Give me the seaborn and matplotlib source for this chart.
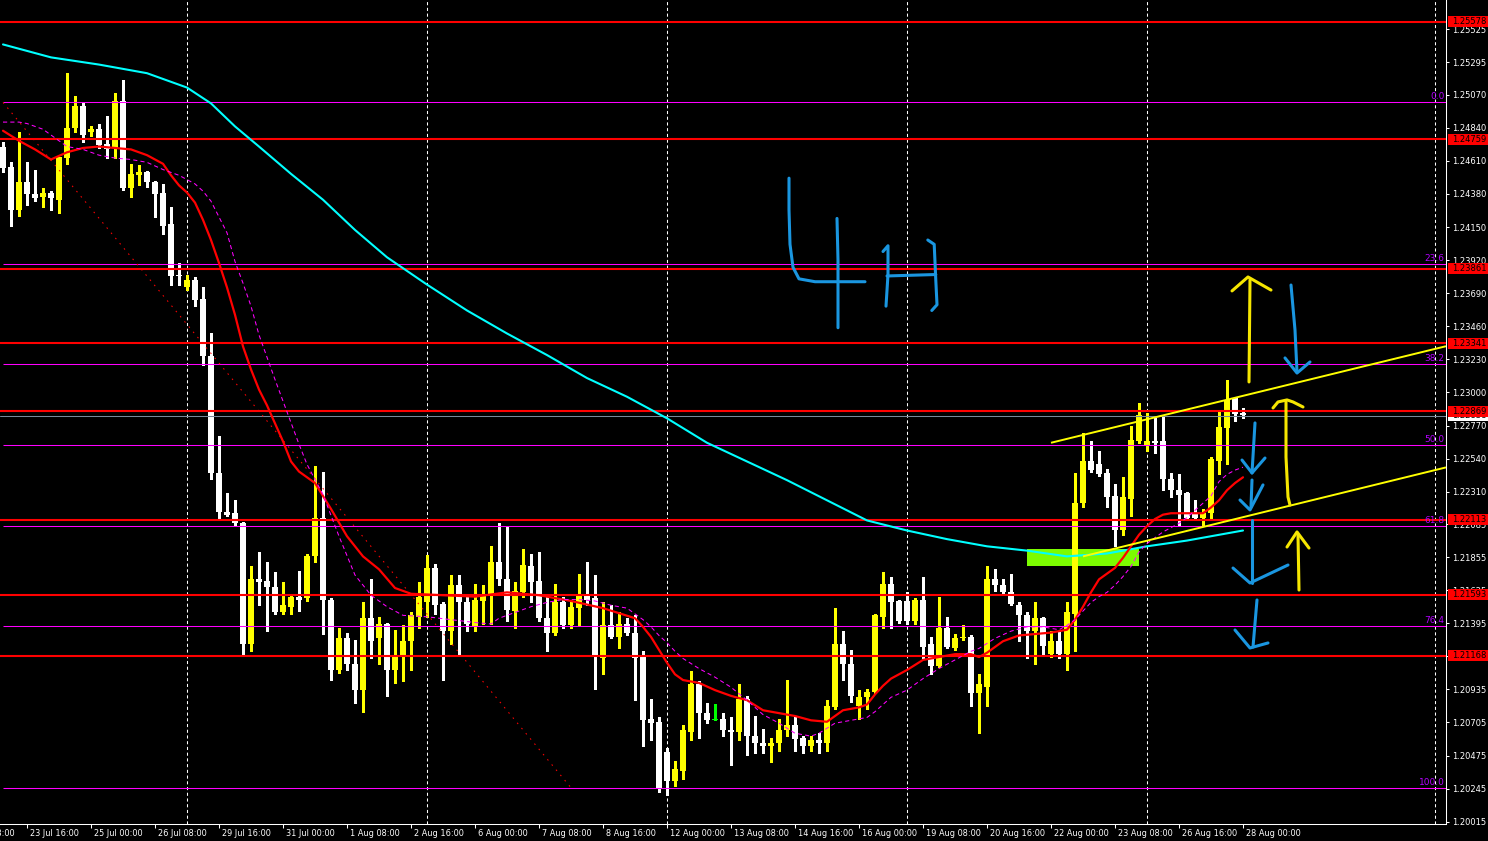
import numpy as np
import pandas as pd
import matplotlib
matplotlib.use("Agg")
import matplotlib.pyplot as plt
import matplotlib.transforms as mtransforms
from matplotlib.patches import Rectangle
import seaborn as sns

# ---------------- data (GBPUSD-like, 4H bars; bar 0 = 23 Jul 16:00) ----------------
bar_index = list(range(-3, 153))

opens = [1.2471, 1.2457, 1.2427, 1.2446, 1.2438, 1.2436, 1.2439, 1.2434, 1.2463, 1.2484,
         1.2499, 1.2481, 1.2483, 1.2473, 1.2470, 1.2503, 1.2442, 1.2451, 1.2453, 1.2446,
         1.2439, 1.2417, 1.2382, 1.2373, 1.2378, 1.2365, 1.2325, 1.2244, 1.2217, 1.2216,
         1.2209, 1.2125, 1.2170, 1.2169, 1.2165, 1.2147, 1.2151, 1.2158, 1.2157, 1.2186,
         1.2213, 1.2156, 1.2107, 1.2129, 1.2111, 1.2093, 1.2143, 1.2129, 1.2139, 1.2107,
         1.2116, 1.2127, 1.2144, 1.2154, 1.2178, 1.2153, 1.2134, 1.2166, 1.2154, 1.2137,
         1.2155, 1.2159, 1.2182, 1.2170, 1.2148, 1.2161, 1.2179, 1.2169, 1.2143, 1.2133,
         1.2154, 1.2138, 1.2150, 1.2159, 1.2157, 1.2115, 1.2138, 1.2130, 1.2139, 1.2133,
         1.2116, 1.2073, 1.2071, 1.2050, 1.2030, 1.2037, 1.2064, 1.2097, 1.2077, 1.2072,
         1.2073, 1.2065, 1.2064, 1.2087, 1.2061, 1.2056, 1.2054, 1.2056, 1.2065, 1.2069,
         1.2060, 1.2054, 1.2058, 1.2056, 1.2081, 1.2125, 1.2111, 1.2082, 1.2088, 1.2092,
         1.2144, 1.2167, 1.2155, 1.2155, 1.2141, 1.2156, 1.2125, 1.2110, 1.2136, 1.2122,
         1.2129, 1.2130, 1.2091, 1.2095, 1.2170, 1.2166, 1.2161, 1.2152, 1.2145, 1.2134,
         1.2143, 1.2118, 1.2127, 1.2118, 1.2146, 1.2223, 1.2252, 1.2250, 1.2244, 1.2228,
         1.2204, 1.2226, 1.2266, 1.2263, 1.2266, 1.2266, 1.2240, 1.2232, 1.2230, 1.2216,
         1.2213, 1.2216, 1.2252, 1.2275, 1.2296, 1.2286]

highs = [1.2474, 1.2460, 1.2481, 1.2460, 1.2455, 1.2442, 1.2440, 1.2464, 1.2522, 1.2506,
         1.2502, 1.2485, 1.2487, 1.2492, 1.2508, 1.2517, 1.2459, 1.2458, 1.2454, 1.2447,
         1.2445, 1.2429, 1.2390, 1.2382, 1.2380, 1.2373, 1.2341, 1.2270, 1.2230, 1.2225,
         1.2210, 1.2179, 1.2189, 1.2182, 1.2175, 1.2168, 1.2159, 1.2176, 1.2188, 1.2249,
         1.2245, 1.2157, 1.2136, 1.2133, 1.2128, 1.2154, 1.2170, 1.2144, 1.2140, 1.2135,
         1.2138, 1.2147, 1.2168, 1.2187, 1.2181, 1.2154, 1.2173, 1.2173, 1.2159, 1.2167,
         1.2166, 1.2193, 1.2209, 1.2207, 1.2168, 1.2191, 1.2188, 1.2189, 1.2159, 1.2167,
         1.2158, 1.2154, 1.2174, 1.2182, 1.2173, 1.2154, 1.2152, 1.2147, 1.2143, 1.2145,
         1.2120, 1.2087, 1.2074, 1.2053, 1.2044, 1.2069, 1.2106, 1.2099, 1.2084, 1.2083,
         1.2077, 1.2074, 1.2097, 1.2089, 1.2075, 1.2066, 1.2060, 1.2073, 1.2100, 1.2075,
         1.2061, 1.2061, 1.2063, 1.2086, 1.2150, 1.2134, 1.2121, 1.2093, 1.2094, 1.2146,
         1.2175, 1.2172, 1.2156, 1.2161, 1.2157, 1.2172, 1.2130, 1.2158, 1.2144, 1.2132,
         1.2138, 1.2131, 1.2104, 1.2179, 1.2177, 1.2170, 1.2174, 1.2154, 1.2147, 1.2154,
         1.2144, 1.2134, 1.2134, 1.2154, 1.2244, 1.2272, 1.2266, 1.2259, 1.2247, 1.2236,
         1.2241, 1.2277, 1.2293, 1.2286, 1.2282, 1.2284, 1.2244, 1.2243, 1.2231, 1.2225,
         1.2219, 1.2255, 1.2287, 1.2309, 1.2297, 1.2289]

lows = [1.2453, 1.2416, 1.2423, 1.2430, 1.2433, 1.2429, 1.2427, 1.2425, 1.2459, 1.2481,
        1.2474, 1.2478, 1.2470, 1.2463, 1.2463, 1.2441, 1.2436, 1.2444, 1.2443, 1.2422,
        1.2410, 1.2375, 1.2375, 1.2371, 1.2360, 1.2319, 1.2240, 1.2211, 1.2214, 1.2207,
        1.2118, 1.2120, 1.2152, 1.2134, 1.2146, 1.2146, 1.2146, 1.2148, 1.2155, 1.2182,
        1.2132, 1.2100, 1.2105, 1.2107, 1.2084, 1.2078, 1.2115, 1.2111, 1.2089, 1.2098,
        1.2099, 1.2107, 1.2136, 1.2144, 1.2146, 1.2100, 1.2125, 1.2117, 1.2134, 1.2134,
        1.2139, 1.2139, 1.2166, 1.2141, 1.2136, 1.2158, 1.2154, 1.2141, 1.2120, 1.2131,
        1.2136, 1.2136, 1.2138, 1.2152, 1.2094, 1.2104, 1.2129, 1.2122, 1.2131, 1.2086,
        1.2054, 1.2058, 1.2022, 1.2020, 1.2026, 1.2031, 1.2058, 1.2060, 1.2070, 1.2072,
        1.2061, 1.2041, 1.2058, 1.2048, 1.2049, 1.2049, 1.2043, 1.2051, 1.2061, 1.2051,
        1.2049, 1.2051, 1.2049, 1.2051, 1.2080, 1.2100, 1.2085, 1.2073, 1.2080, 1.2091,
        1.2136, 1.2136, 1.2140, 1.2139, 1.2139, 1.2115, 1.2104, 1.2109, 1.2122, 1.2121,
        1.2128, 1.2082, 1.2063, 1.2082, 1.2162, 1.2159, 1.2152, 1.2127, 1.2115, 1.2111,
        1.2118, 1.2116, 1.2115, 1.2107, 1.2120, 1.2220, 1.2245, 1.2242, 1.2220, 1.2193,
        1.2201, 1.2214, 1.2265, 1.2259, 1.2258, 1.2232, 1.2227, 1.2207, 1.2212, 1.2211,
        1.2207, 1.2211, 1.2243, 1.2250, 1.2280, 1.2282]

closes = [1.2456, 1.2427, 1.2446, 1.2438, 1.2435, 1.2439, 1.2435, 1.2464, 1.2484, 1.2499,
          1.2479, 1.2483, 1.2472, 1.2469, 1.2503, 1.2442, 1.2452, 1.2453, 1.2446, 1.2438,
          1.2416, 1.2381, 1.2381, 1.2378, 1.2364, 1.2325, 1.2244, 1.2217, 1.2215, 1.2209,
          1.2125, 1.2170, 1.2168, 1.2165, 1.2147, 1.2152, 1.2158, 1.2156, 1.2186, 1.2213,
          1.2156, 1.2107, 1.2129, 1.2111, 1.2093, 1.2143, 1.2127, 1.2139, 1.2107, 1.2116,
          1.2127, 1.2145, 1.2158, 1.2178, 1.2152, 1.2134, 1.2166, 1.2154, 1.2139, 1.2156,
          1.2159, 1.2182, 1.2170, 1.2149, 1.2162, 1.2180, 1.2168, 1.2143, 1.2133, 1.2154,
          1.2138, 1.2151, 1.2159, 1.2156, 1.2116, 1.2138, 1.2130, 1.2139, 1.2133, 1.2115,
          1.2072, 1.2070, 1.2024, 1.2030, 1.2038, 1.2065, 1.2097, 1.2077, 1.2072, 1.2072,
          1.2065, 1.2064, 1.2087, 1.2061, 1.2056, 1.2054, 1.2056, 1.2065, 1.2069, 1.2059,
          1.2054, 1.2058, 1.2056, 1.2082, 1.2125, 1.2111, 1.2089, 1.2088, 1.2092, 1.2145,
          1.2167, 1.2154, 1.2141, 1.2141, 1.2156, 1.2123, 1.2110, 1.2136, 1.2123, 1.2129,
          1.2130, 1.2091, 1.2097, 1.2170, 1.2166, 1.2161, 1.2153, 1.2145, 1.2134, 1.2143,
          1.2124, 1.2127, 1.2118, 1.2147, 1.2223, 1.2252, 1.2246, 1.2243, 1.2227, 1.2204,
          1.2227, 1.2267, 1.2284, 1.2266, 1.2265, 1.2240, 1.2232, 1.2229, 1.2213, 1.2213,
          1.2216, 1.2254, 1.2276, 1.2295, 1.2285, 1.2284]

# moving averages (bar, price)
ma_fast_bars = [-3, -1, 1, 3, 5, 7, 9, 11, 13, 15, 17, 18, 19, 20, 21, 22, 23, 24, 25, 26,
                27, 28, 29, 30, 32, 33, 34, 36, 38, 40, 42, 44, 46, 48, 52, 56, 60, 64, 68, 72,
                76, 77, 78, 79, 80, 81, 82, 84, 86, 88, 90, 92, 94, 96, 98, 100, 101, 102, 104, 105,
                106, 107, 108, 110, 112, 114, 116, 118, 119, 120, 121, 122, 124, 126, 128, 130, 131, 132, 133, 134,
                135, 136, 137, 138, 139, 140, 141, 142, 143, 145, 147, 148, 149, 150, 151, 152]
ma_fast_vals = [1.2482, 1.2475, 1.2469, 1.2462, 1.2467, 1.2470, 1.2471, 1.2470, 1.2469, 1.2465,
                1.2459, 1.2451, 1.2444, 1.2439, 1.2432, 1.2420, 1.2406, 1.2390, 1.2373, 1.2354,
                1.2332, 1.2316, 1.2302, 1.2291, 1.2266, 1.2252, 1.2245, 1.2237, 1.2219, 1.2200,
                1.2186, 1.2177, 1.2164, 1.2160, 1.2159, 1.2158, 1.2161, 1.2159, 1.2155, 1.2150,
                1.2143, 1.2137, 1.2130, 1.2121, 1.2112, 1.2104, 1.2100, 1.2098, 1.2093, 1.2089,
                1.2086, 1.2079, 1.2077, 1.2075, 1.2072, 1.2071, 1.2075, 1.2079, 1.2081, 1.2083,
                1.2090, 1.2096, 1.2101, 1.2107, 1.2114, 1.2116, 1.2118, 1.2118, 1.2116, 1.2119,
                1.2123, 1.2127, 1.2131, 1.2132, 1.2133, 1.2135, 1.2142, 1.2151, 1.2161, 1.2170,
                1.2174, 1.2178, 1.2185, 1.2193, 1.2201, 1.2207, 1.2212, 1.2215, 1.2216, 1.2216,
                1.2216, 1.2220, 1.2225, 1.2232, 1.2237, 1.2241]

ma_mid_bars = [-3, -1, 0, 2, 3, 5, 7, 9, 11, 13, 15, 17, 19, 21, 22, 23, 24, 25, 26, 27,
               28, 29, 31, 34, 35, 37, 39, 41, 43, 45, 47, 50, 53, 56, 58, 59, 61, 63, 65, 67,
               69, 71, 73, 75, 77, 78, 79, 80, 81, 82, 84, 86, 88, 90, 92, 94, 96, 98, 99, 101,
               103, 105, 106, 107, 108, 110, 112, 114, 116, 118, 119, 121, 123, 125, 127, 129, 130, 131, 132, 133,
               134, 135, 136, 137, 138, 139, 140, 141, 142, 144, 145, 146, 147, 148, 149, 150, 151, 152]
ma_mid_vals = [1.2488, 1.2488, 1.2487, 1.2483, 1.2479, 1.2471, 1.2469, 1.2465, 1.2463, 1.2462,
               1.2460, 1.2455, 1.2451, 1.2445, 1.2440, 1.2433, 1.2422, 1.2411, 1.2391, 1.2376,
               1.2360, 1.2340, 1.2309, 1.2264, 1.2250, 1.2229, 1.2200, 1.2173, 1.2159, 1.2151,
               1.2145, 1.2144, 1.2142, 1.2140, 1.2139, 1.2143, 1.2147, 1.2151, 1.2154, 1.2156,
               1.2156, 1.2155, 1.2152, 1.2150, 1.2142, 1.2137, 1.2131, 1.2126, 1.2120, 1.2115,
               1.2108, 1.2102, 1.2095, 1.2086, 1.2076, 1.2070, 1.2063, 1.2061, 1.2063, 1.2070,
               1.2072, 1.2074, 1.2078, 1.2083, 1.2088, 1.2093, 1.2101, 1.2108, 1.2114, 1.2120,
               1.2122, 1.2129, 1.2134, 1.2137, 1.2137, 1.2135, 1.2138, 1.2142, 1.2148, 1.2154,
               1.2158, 1.2161, 1.2166, 1.2172, 1.2179, 1.2189, 1.2195, 1.2199, 1.2203, 1.2209,
               1.2213, 1.2218, 1.2223, 1.2228, 1.2238, 1.2243, 1.2246, 1.2248]

ma_slow_bars = [-3, 3, 9, 15, 20, 23, 26, 29, 33, 37, 41, 45, 50, 55, 60, 65, 70, 75, 80, 85,
                90, 95, 100, 105, 110, 115, 120, 125, 130, 135, 140, 145, 152]
ma_slow_vals = [1.2542, 1.2533, 1.2528, 1.2522, 1.2512, 1.2501, 1.2485, 1.2471, 1.2452, 1.2434,
                1.2413, 1.2394, 1.2375, 1.2357, 1.2341, 1.2326, 1.2310, 1.2297, 1.2282, 1.2265,
                1.2252, 1.2239, 1.2225, 1.2211, 1.2204, 1.2198, 1.2193, 1.2190, 1.2186, 1.2188,
                1.2193, 1.2197, 1.2204]

# horizontal levels
red_levels = [1.25578, 1.24759, 1.23861, 1.23341, 1.22869, 1.22113, 1.21593, 1.21168]
fib_levels = [1.25017, 1.23892, 1.23196, 1.22634, 1.22072, 1.21376, 1.20251]
fib_labels = ["0.0", "23.6", "38.2", "50.0", "61.8", "76.4", "100.0"]
fib_anchor_bars = [-3, 68]
fib_anchor_prices = [1.25017, 1.20251]
bid_price = 1.22838

channel_upper_bars = [128, 153]
channel_upper_prices = [1.2265, 1.2299]
channel_lower_bars = [132, 154]
channel_lower_prices = [1.2186, 1.2216]
zone_bars = [125, 139]
zone_prices = [1.21793, 1.21912]

# axis labels
x_tick_bars = list(range(-8, 153, 8))
x_tick_labels = ["22 Jul 08:00", "23 Jul 16:00", "25 Jul 00:00", "26 Jul 08:00", "29 Jul 16:00",
                 "31 Jul 00:00", "1 Aug 08:00", "2 Aug 16:00", "6 Aug 00:00", "7 Aug 08:00",
                 "8 Aug 16:00", "12 Aug 00:00", "13 Aug 08:00", "14 Aug 16:00", "16 Aug 00:00",
                 "19 Aug 08:00", "20 Aug 16:00", "22 Aug 00:00", "23 Aug 08:00", "26 Aug 16:00",
                 "28 Aug 00:00"]
week_start_bars = [20, 50, 80, 110, 140]
shift_bar = 176
y_ticks = [1.20015, 1.20245, 1.20475, 1.20705, 1.20935, 1.21165, 1.21395, 1.21625, 1.21855,
           1.22085, 1.22310, 1.22540, 1.22770, 1.23000, 1.23230, 1.23460, 1.23690, 1.23920,
           1.24150, 1.24380, 1.24610, 1.24840, 1.25070, 1.25295, 1.25525]

# hand-drawn annotations (bar, price)
blue_strokes = [
    [(95.25, 1.2449), (95.25, 1.2427), (95.375, 1.2403), (95.75, 1.2387), (96.5, 1.2379), (98.5, 1.2377), (104.75, 1.2377)],
    [(101.25, 1.2421), (101.375, 1.2392), (101.375, 1.2345)],
    [(107.0, 1.2398), (107.625, 1.2402), (107.625, 1.2382), (107.375, 1.2360)],
    [(107.5, 1.2381), (113.6, 1.2382)],
    [(112.6, 1.2406), (113.4, 1.2403), (113.6, 1.2378), (113.75, 1.2361), (113.1, 1.2357)],
    [(158.0, 1.23747), (158.5, 1.23434), (158.75, 1.23142)],
    [(157.25, 1.23240), (158.75, 1.23135), (160.375, 1.23212)],
    [(153.5, 1.22788), (153.125, 1.22440)],
    [(151.875, 1.22530), (153.125, 1.22440), (154.75, 1.22544)],
    [(153.125, 1.22391), (153.0, 1.22204)],
    [(151.625, 1.22252), (152.875, 1.22183), (154.5, 1.22357)],
    [(153.125, 1.22113), (153.125, 1.21675)],
    [(150.75, 1.21779), (152.875, 1.21675), (157.625, 1.21800)],
    [(153.75, 1.21557), (153.25, 1.21230)],
    [(151.0, 1.21348), (152.875, 1.21223), (155.125, 1.21258)],
]
yellow_strokes = [
    [(152.75, 1.23073), (152.875, 1.23782)],
    [(150.625, 1.23706), (152.625, 1.23803), (155.5, 1.23712)],
    [(155.75, 1.22892), (156.375, 1.22934), (157.5, 1.22948), (158.25, 1.22934), (159.5, 1.22899)],
    [(157.375, 1.22934), (157.375, 1.22551), (157.625, 1.22273), (157.875, 1.22217)],
    [(157.5, 1.21925), (158.75, 1.22030), (160.25, 1.21918)],
    [(158.875, 1.22009), (159.0, 1.21626)],
]

# ---------------- figure ----------------
sns.set_theme(style="dark", rc={"axes.facecolor": "black", "figure.facecolor": "black"})
plt.rcParams["font.family"] = ["DejaVu Sans"]

W, H = 1488, 841
PW, PH, PB = 1446, 824, 17
fig = plt.figure(figsize=(W / 100, H / 100), dpi=100, facecolor="black")
ax = fig.add_axes([0, PB / H, PW / W, PH / H])
ax.set_facecolor("black")
XMIN, XMAX = -3.375, 177.375
YMIN, YMAX = 1.19999, 1.25729
px_price = (YMAX - YMIN) / PH

# weekly grid
for b in week_start_bars + [shift_bar]:
    ax.axvline(b, color="white", lw=0.75, dashes=(3, 2.5), zorder=0.5)

# zone rectangle
ax.add_patch(Rectangle((zone_bars[0], zone_prices[0]), zone_bars[1] - zone_bars[0],
                       zone_prices[1] - zone_prices[0], fc="#7cfc00", ec="none", zorder=1))

# candles
df = pd.DataFrame({"bar": bar_index, "open": opens, "high": highs, "low": lows, "close": closes})
cols = np.where(df["close"] > df["open"], "#ffff00",
                np.where(df["close"] < df["open"], "#ffffff", "#00ff00"))
ax.vlines(df["bar"], df["low"], df["high"], colors=cols, lw=0.75, zorder=3, antialiased=False)
body_bottom = np.minimum(df["open"], df["close"])
body_h = np.maximum((df["close"] - df["open"]).abs(), px_price)
ax.bar(df["bar"], body_h, bottom=body_bottom, width=0.7, color=cols, lw=0, zorder=3.1,
       antialiased=False)

# horizontal objects
ax.hlines(fib_levels, fib_anchor_bars[0], XMAX, colors="#ff00ff", lw=0.75, zorder=3.4)
ax.plot(fib_anchor_bars, fib_anchor_prices, color="#ff0000", lw=0.75, dashes=(1.5, 5), zorder=3.4)
ax.axhline(bid_price, color="#778899", lw=0.75, zorder=3.3)
for lvl in red_levels:
    ax.axhline(lvl, color="#ff0000", lw=1.5, zorder=3.5)

# moving averages (seaborn)
sns.lineplot(x=ma_slow_bars, y=ma_slow_vals, ax=ax, color="#00ffff", linewidth=1.5,
             estimator=None, zorder=4)
sns.lineplot(x=ma_fast_bars, y=ma_fast_vals, ax=ax, color="#ff0000", linewidth=1.6,
             estimator=None, zorder=4)
sns.lineplot(x=ma_mid_bars, y=ma_mid_vals, ax=ax, color="#ff00ff", linewidth=0.75,
             estimator=None, zorder=4)
ax.lines[-1].set_dashes([4, 3])

# channel rays
for bars, prices in [(channel_upper_bars, channel_upper_prices),
                     (channel_lower_bars, channel_lower_prices)]:
    slope = (prices[1] - prices[0]) / (bars[1] - bars[0])
    ax.plot([bars[0], XMAX], [prices[0], prices[0] + slope * (XMAX - bars[0])],
            color="#ffff00", lw=1.4, zorder=4.5, solid_capstyle="butt")

# hand-drawn strokes
for s in blue_strokes:
    xs, ys = zip(*s)
    ax.plot(xs, ys, color="#1a96e0", lw=2.2, solid_capstyle="round", solid_joinstyle="round", zorder=6)
for s in yellow_strokes:
    xs, ys = zip(*s)
    ax.plot(xs, ys, color="#f6e600", lw=2.2, solid_capstyle="round", solid_joinstyle="round", zorder=6)

# axes styling
for s in ["top", "left"]:
    ax.spines[s].set_visible(False)
for s in ["right", "bottom"]:
    ax.spines[s].set_color("white")
    ax.spines[s].set_linewidth(0.75)
ax.yaxis.tick_right()
ax.set_yticks(y_ticks)
ax.set_yticklabels([f"{v:.5f}" for v in y_ticks])
ax.tick_params(axis="y", colors="white", length=2.5, width=0.75, labelsize=6, pad=2,
               right=True, left=False, labelright=True, labelleft=False)
ax.set_xticks([b for b in x_tick_bars if b >= XMIN])
ax.tick_params(axis="x", colors="white", length=3, width=0.75, bottom=True, labelbottom=False)
ax.grid(False)
ax.set_xlim(XMIN, XMAX)
ax.set_ylim(YMIN, YMAX)

tr_r = mtransforms.blended_transform_factory(ax.transAxes, ax.transData)

# fib labels
for lvl, lab in zip(fib_levels, fib_labels):
    ax.text(1 - 1.5 / PW, lvl + 1.0 * px_price, lab, transform=tr_r, ha="right", va="bottom",
            color="#b400ff", fontsize=6.5, zorder=7)

tr_x = mtransforms.blended_transform_factory(ax.transData, ax.transAxes) + \
    mtransforms.ScaledTranslation(3 / 100, 0, fig.dpi_scale_trans)
for b, lab in zip(x_tick_bars, x_tick_labels):
    ax.text(b, -9 / PH, lab, transform=tr_x, ha="left", va="center", color="white",
            fontsize=5.9, clip_on=False)

# price labels on the scale
box_h = 11 * px_price
def scale_label(price, text, fc, z):
    ax.add_patch(Rectangle((1 + 1.5 / PW, price - box_h / 2), 41 / PW, box_h, transform=tr_r,
                           fc=fc, ec="none", clip_on=False, zorder=z))
    ax.text(1 + 6 / PW, price, text, transform=tr_r, ha="left", va="center", color="black",
            fontsize=6, clip_on=False, zorder=z + 0.1)

scale_label(bid_price, f"{bid_price:.5f}", "white", 8)
for lvl in red_levels:
    scale_label(lvl, f"{lvl:.5f}", "#ff0000", 9)

fig.savefig("out.png", dpi=100, facecolor="black")
